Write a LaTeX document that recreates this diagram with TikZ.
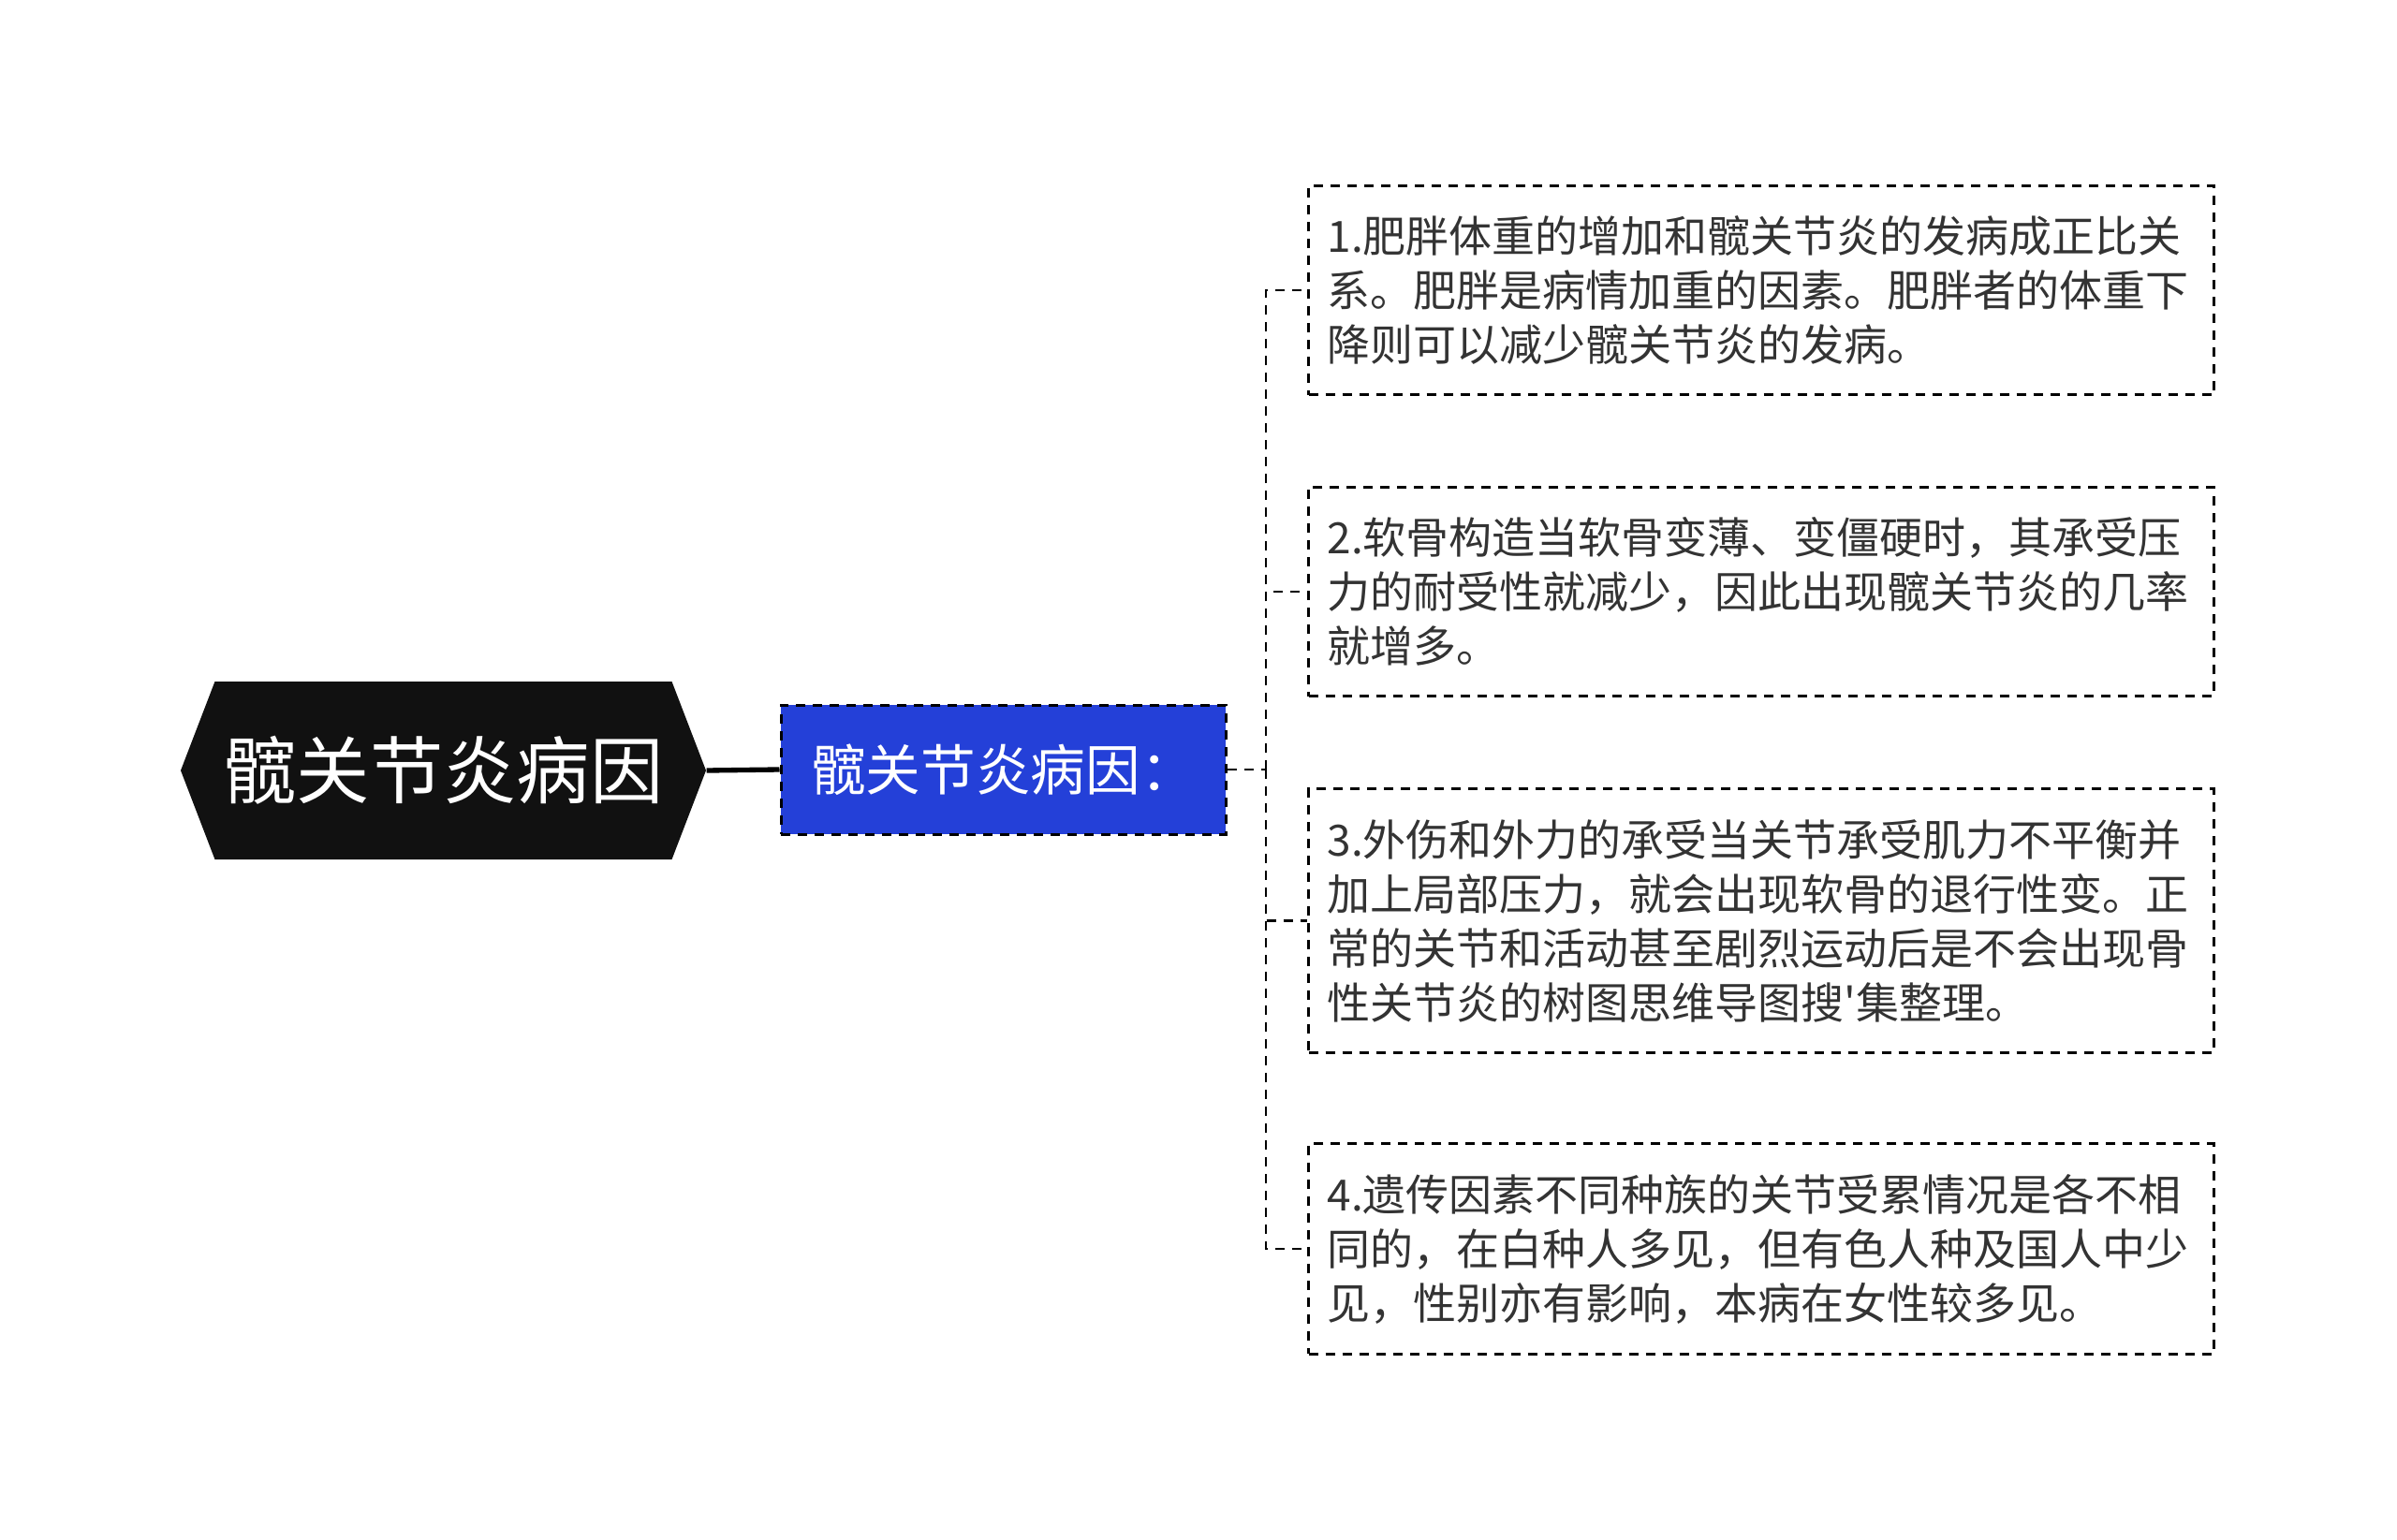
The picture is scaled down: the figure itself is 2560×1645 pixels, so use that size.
\documentclass[tikz,border=0pt]{standalone}
\usepackage{fontspec}
\newfontfamily\cjk{Noto Sans CJK SC}
\usepackage{tikz}
\usetikzlibrary{positioning,shapes.symbols}
\definecolor{rootfill}{RGB}{17,17,17}
\definecolor{subblue}{RGB}{36,64,216}
\definecolor{leaftext}{RGB}{51,51,51}
\tikzset{
  rootnode/.style={signal, signal to=west and east, signal pointer angle=138,
    fill=rootfill, text=white, minimum width=168.3pt, minimum height=57pt,
    inner sep=0pt, font=\cjk\fontsize{23.5pt}{28pt}\selectfont},
  subnode/.style={draw=black, dash pattern=on 3pt off 2.4pt, line width=0.9pt,
    fill=subblue, text=white, minimum width=142.5pt, minimum height=41.4pt,
    inner sep=0pt, font=\cjk\fontsize{17.6pt}{21pt}\selectfont},
  leafnode/.style={draw=black, dash pattern=on 3pt off 2.4pt, line width=0.9pt,
    text=leaftext, text width=278pt, align=left, inner xsep=6pt, inner ysep=9.7pt,
    anchor=west, font=\cjk\fontsize{13.8pt}{17.4pt}\selectfont},
  link/.style={draw=black, dash pattern=on 3pt off 2.4pt, line width=0.8pt},
}
\begin{document}
\begin{tikzpicture}[x=0.3pt,y=0.3pt,yscale=-1,xscale=1]
\useasboundingbox (0,0) rectangle (2560,1645);

% root and first level
\node[rootnode] (root) at (473.5,823) {髋关节炎病因};
\node[subnode] (sub) at (1071.5,822) {髋关节炎病因：};

% leaves
\node[leafnode] (b1) at (1396,310) {1.肥胖体重的增加和髋关节炎的发病成正比关\\系。肥胖是病情加重的因素。肥胖者的体重下\\降则可以减少髋关节炎的发病。};
\node[leafnode] (b2) at (1396,632) {2.软骨构造当软骨变薄、变僵硬时，其承受压\\力的耐受性就减少，因此出现髋关节炎的几率\\就增多。};
\node[leafnode] (b3) at (1396,983.5) {3.外伤和外力的承受当关节承受肌力不平衡并\\加上局部压力，就会出现软骨的退行性变。正\\常的关节和活动甚至剧烈运动后是不会出现骨\\性关节炎的树图思维导图搜'集整理。};
\node[leafnode] (b4) at (1396,1334) {4.遗传因素不同种族的关节受累情况是各不相\\同的，在白种人多见，但有色人种及国人中少\\见，性别亦有影响，本病在女性较多见。};

% connectors
\coordinate (fork) at (1352,822);
\draw[line width=1.6pt] (root.east) -- (sub.west);
\draw[link] (sub.east) -- (fork);
\foreach \b in {b1,b2,b3,b4}
  \draw[link] (fork) |- (\b.west);
\end{tikzpicture}
\end{document}
